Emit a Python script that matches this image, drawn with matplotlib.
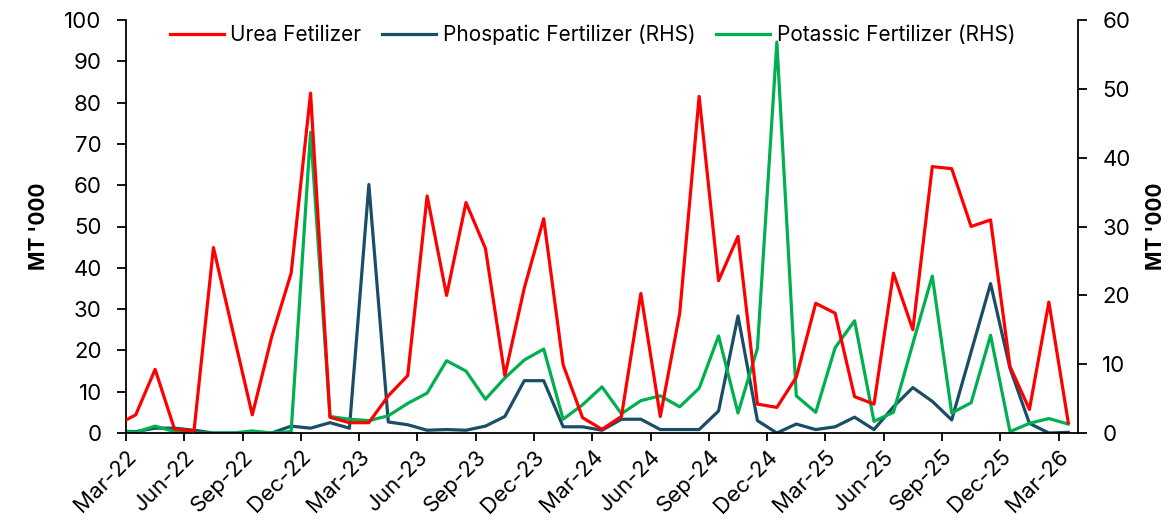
import matplotlib
matplotlib.use("Agg")
import matplotlib.pyplot as plt
import numpy as np

plt.rcParams['font.family'] = ['Inter', 'DejaVu Sans']

# Monthly data Feb-22 (partly clipped) .. Mar-26
months = ["Feb-22",
          "Mar-22", "Apr-22", "May-22", "Jun-22", "Jul-22", "Aug-22", "Sep-22", "Oct-22", "Nov-22", "Dec-22", "Jan-23", "Feb-23",
          "Mar-23", "Apr-23", "May-23", "Jun-23", "Jul-23", "Aug-23", "Sep-23", "Oct-23", "Nov-23", "Dec-23", "Jan-24", "Feb-24",
          "Mar-24", "Apr-24", "May-24", "Jun-24", "Jul-24", "Aug-24", "Sep-24", "Oct-24", "Nov-24", "Dec-24", "Jan-25", "Feb-25",
          "Mar-25", "Apr-25", "May-25", "Jun-25", "Jul-25", "Aug-25", "Sep-25", "Oct-25", "Nov-25", "Dec-25", "Jan-26", "Feb-26",
          "Mar-26"]

urea = [1.9,
        4.4, 15.4, 0.9, 0.5, 44.9, 24.6, 4.4, 23.3, 38.7, 82.3, 3.8, 2.5,
        2.5, 9.0, 13.9, 57.4, 33.3, 55.8, 44.7, 13.9, 35.1, 51.9, 16.5, 3.7,
        0.9, 4.0, 33.8, 4.0, 29.0, 81.5, 36.9, 47.6, 7.0, 6.2, 13.5, 31.4,
        29.0, 8.8, 7.0, 38.7, 25.0, 64.5, 64.0, 50.0, 51.6, 16.1, 5.7, 31.7,
        2.5]

phosphatic = [0.3,
              0.2, 0.7, 0.7, 0.4, 0.0, 0.0, 0.0, 0.0, 1.0, 0.7, 1.5, 0.7,
              36.1, 1.6, 1.2, 0.4, 0.5, 0.4, 1.0, 2.4, 7.6, 7.6, 0.9, 0.9,
              0.4, 2.0, 2.0, 0.5, 0.5, 0.5, 3.2, 17.0, 1.8, 0.0, 1.3, 0.5,
              0.9, 2.3, 0.5, 3.8, 6.6, 4.6, 1.9, 11.8, 21.7, 9.4, 1.4, 0.0,
              0.1]

potassic = [0.3,
            0.1, 1.0, 0.2, 0.0, 0.0, 0.0, 0.3, 0.0, 0.2, 43.7, 2.4, 2.0,
            1.8, 2.5, 4.3, 5.8, 10.5, 9.0, 4.9, 8.0, 10.6, 12.2, 2.0, 4.1,
            6.7, 2.8, 4.7, 5.4, 3.8, 6.5, 14.1, 2.9, 12.3, 56.8, 5.4, 3.0,
            12.4, 16.3, 1.7, 3.0, 13.0, 22.8, 2.9, 4.4, 14.2, 0.2, 1.4, 2.1,
            1.3]

tick_labels = ["Mar-22", "Jun-22", "Sep-22", "Dec-22", "Mar-23", "Jun-23", "Sep-23", "Dec-23",
               "Mar-24", "Jun-24", "Sep-24", "Dec-24", "Mar-25", "Jun-25", "Sep-25", "Dec-25", "Mar-26"]

x = np.arange(len(months)) - 0.5  # Feb-22 at -0.5, Mar-22 at 0.5 (mid-month)

fig = plt.figure(figsize=(11.73, 5.24), dpi=100)
ax = fig.add_axes([126/1173, 1-433/524, (1078-126)/1173, (433-20)/524])
ax2 = ax.twinx()

c_red = "#FF0000"
c_blue = "#1A4D66"
c_green = "#00B050"
lw = 2.3

l1, = ax.plot(x, urea, color=c_red, lw=lw, label="Urea Fetilizer", zorder=3)
l2, = ax2.plot(x, phosphatic, color=c_blue, lw=lw, label="Phospatic Fertilizer (RHS)")
l3, = ax2.plot(x, potassic, color=c_green, lw=lw, label="Potassic Fertilizer (RHS)")
ax.set_zorder(ax2.get_zorder() + 1)
ax.patch.set_visible(False)

ax.set_xlim(0, 49)
ax.set_ylim(0, 100)
ax2.set_ylim(0, 60)
ax.set_yticks(np.arange(0, 101, 10))
ax2.set_yticks(np.arange(0, 61, 10))
ax.set_xticks(np.arange(0, 49, 3))
ax.set_xticklabels(tick_labels, rotation=45, ha="right", rotation_mode="anchor")

fs = 16
for a in (ax, ax2):
    a.tick_params(axis="both", labelsize=fs, width=1.3, direction="out", colors="black")
    a.spines["top"].set_visible(False)
    for s in ("left", "right", "bottom"):
        a.spines[s].set_linewidth(1.3)
ax.spines["right"].set_visible(False)
ax2.spines["left"].set_visible(False)
ax2.spines["bottom"].set_visible(False)
ax.tick_params(axis="x", length=5.5, pad=4)
ax.tick_params(axis="y", length=6.5, pad=11)
ax2.tick_params(axis="y", length=6.5, pad=11)

ax.set_ylabel("MT '000", fontsize=15, fontweight="bold", labelpad=11)
ax2.set_ylabel("MT '000", fontsize=15, fontweight="bold", labelpad=11, rotation=90)

leg = ax.legend(handles=[l1, l2, l3], loc="upper center", bbox_to_anchor=(0.49, 1.035),
                ncol=3, frameon=False, fontsize=15, handlelength=2.6, columnspacing=1.0,
                handletextpad=0.3)

fig.savefig("out.png", dpi=100)
